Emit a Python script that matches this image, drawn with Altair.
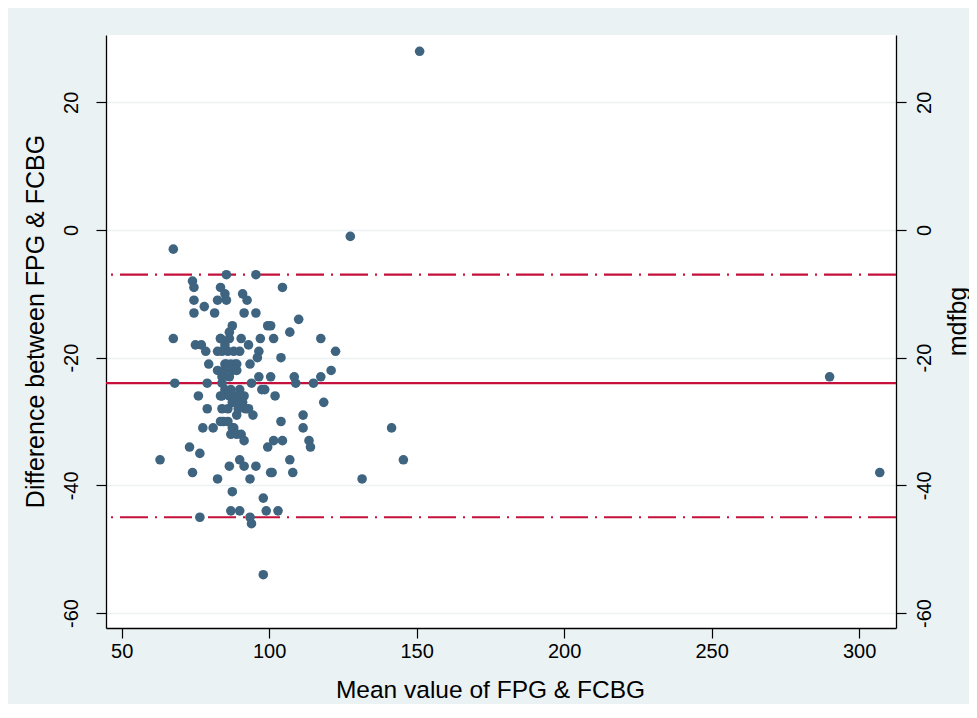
import altair as alt
import pandas as pd

# Bland-Altman data: mean of FPG & FCBG (x) and their difference (y)
mean_vals = [
    151, 127.5, 67.5, 290, 307, 141.5, 145.5, 131.5, 63, 98,
    85.5, 95.5, 74, 74.5, 83.5, 85, 91, 92.5, 74.5, 78, 82.5, 85.5,
    74.5, 81.5, 91.5, 95.5, 87.5, 67.5, 75, 77, 78.5, 83.5, 86.5,
    90.5, 93, 97, 99.5, 96.5, 82.5, 86, 90, 79.5, 85.5, 88.5, 93.5,
    96, 82.5, 96.5, 68, 79, 84, 94, 97.5, 76, 83.5, 88.5, 91.5,
    79, 84, 87.5, 92,
    104.5, 110, 100.5, 107, 101.5, 117.5, 122.5, 104, 100.5, 108.5,
    117.5, 121, 109, 115, 102, 118.5, 98.5,
    77.5, 81, 84.5, 87.5, 87, 90.5, 91.5, 94.5, 73, 76.5, 90, 91.5,
    86.5, 95.5, 74, 82.5, 93.5, 99.5, 100.5, 87.5, 98, 76.5, 87,
    90, 93.5, 94, 99,
    104, 111.5, 111.5, 101.5, 104.5, 113.5, 114, 107, 101, 108, 103,
    83.5, 86.5, 85, 84, 88, 85, 87, 89, 84.5, 87.5, 89, 84, 86.5,
    85, 87, 90, 84, 86.5, 90, 89, 91, 83.5, 86, 88, 89, 89, 86, 89.5, 93,
]
diff_vals = [
    28, -1, -3, -23, -38, -31, -36, -39, -36, -54,
    -7, -7, -8, -9, -9, -10, -10, -11, -11, -12, -11, -11,
    -13, -13, -13, -13, -15, -17, -18, -18, -19, -17, -16,
    -17, -18, -17, -15, -19, -19, -19, -19, -21, -21, -21, -21,
    -20, -22, -23, -24, -24, -24, -24, -25, -26, -26, -26, -26,
    -28, -28, -27, -28,
    -9, -14, -15, -16, -17, -17, -19, -20, -23, -23,
    -23, -22, -24, -24, -26, -27, -25,
    -31, -31, -30, -31, -32, -32, -33, -29, -34, -35, -36, -37,
    -37, -37, -38, -39, -39, -34, -38, -41, -42, -45, -44,
    -44, -45, -46, -44,
    -30, -29, -31, -33, -33, -33, -34, -36, -38, -38, -44,
    -17, -17, -18, -19, -19, -21, -21, -21, -22, -22, -22, -23, -23,
    -25, -25, -25, -26, -26, -26, -27, -27, -30, -30, -31, -32, -29, -28, -28, -28,
]

ref_levels = [-7, -24, -45]
ref_kinds = ["limit", "mean", "limit"]

x_ticks = [50, 100, 150, 200, 250, 300]
y_ticks = [-60, -40, -20, 0, 20]

df = pd.DataFrame({"mean": mean_vals, "diff": diff_vals})
ref = pd.DataFrame({"y": ref_levels, "kind": ref_kinds})

FONT = "Liberation Sans"
BG = "#EAF2F3"

xscale = alt.Scale(domain=[44.68, 312.5], nice=False, zero=False)
yscale = alt.Scale(domain=[-62.35, 30.55], nice=False, zero=False)

common_axis = dict(
    values=y_ticks, tickSize=10, tickColor="black", tickWidth=1.2,
    domainColor="black", domainWidth=1.3, labelAngle=270, labelAlign="center",
    labelFontSize=20, labelFont=FONT, labelColor="black",
    labelExpr="datum.value + ''",
    titleFontSize=25, titleFont=FONT, titleFontWeight="normal", titleColor="black",
    titleAngle=270, titleAlign="center", titleBaseline="middle", titleY=286,
)

left_axis = alt.Axis(
    orient="left", title="Difference between FPG & FCBG", labelBaseline="bottom",
    labelPadding=15, grid=True, gridColor=BG, gridWidth=1.5, titleX=-71,
    **common_axis,
)
right_axis = alt.Axis(
    orient="right", title="mdfbg", labelBaseline="top", labelPadding=8,
    grid=False, titleX=61, **common_axis,
)

rules = alt.Chart(ref).mark_rule(strokeWidth=2.2, color="#C4103A").encode(
    y=alt.Y("y:Q", scale=yscale, axis=right_axis),
    strokeDash=alt.StrokeDash(
        "kind:N",
        scale=alt.Scale(domain=["limit", "mean"], range=[[28, 7, 2, 7], [1, 0]]),
        legend=None,
    ),
)

points = alt.Chart(df).mark_circle(size=92, opacity=1, color="#3E6480").encode(
    x=alt.X(
        "mean:Q", scale=xscale,
        axis=alt.Axis(
            values=x_ticks, title="Mean value of FPG & FCBG", tickSize=10,
            tickColor="black", tickWidth=1.2, domainColor="black", domainWidth=1.3,
            grid=False, labelFontSize=20, labelFont=FONT, labelColor="black",
            labelPadding=3, titleFontSize=24.5, titleFont=FONT,
            titleFontWeight="normal", titleColor="black", titleX=384, titleY=62,
            titleAlign="center", titleBaseline="middle",
        ),
    ),
    y=alt.Y("diff:Q", scale=yscale, axis=left_axis),
)

chart = (
    alt.layer(rules, points)
    .resolve_scale(y="independent")
    .properties(
        width=790, height=593,
        autosize=alt.AutoSizeParams(type="none"),
        padding={"left": 98, "top": 27, "right": 73, "bottom": 76},
        background=BG,
    )
    .configure_view(fill="white", stroke=None)
)

chart.save("out.html", embed_options={"renderer": "svg", "actions": False})
